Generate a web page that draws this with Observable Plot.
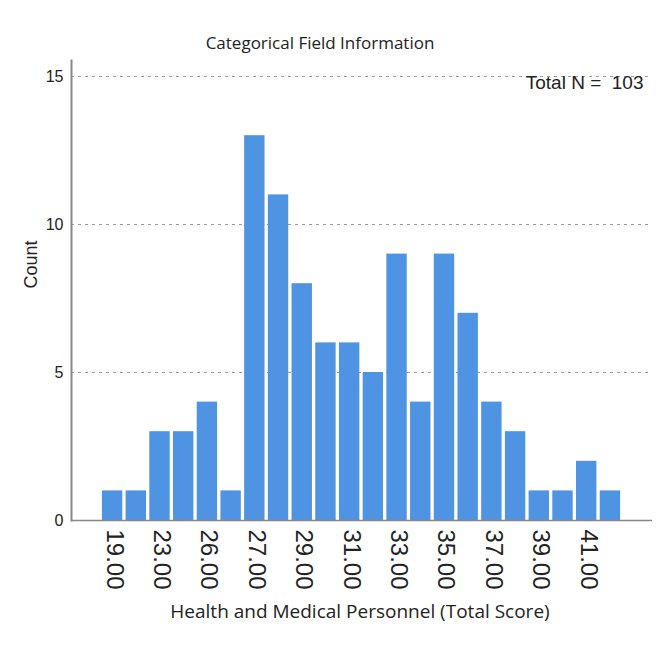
<!DOCTYPE html>
<html>
<head>
<meta charset="utf-8">
<script src="https://cdn.jsdelivr.net/npm/d3@7"></script>
<script src="https://cdn.jsdelivr.net/npm/@observablehq/plot@0.6"></script>
<style>
  html, body { margin: 0; padding: 0; background: #fff; }
  #chart svg { display: block; }
</style>
</head>
<body>
<div id="chart"></div>
<script>
const categories = ["19.00","22.00","23.00","25.00","26.00","26.50","27.00","28.00","29.00","30.00","31.00","32.00","33.00","34.00","35.00","36.00","37.00","38.00","39.00","40.00","41.00","42.00"];
const counts = [1,1,3,3,4,1,13,11,8,6,6,5,9,4,9,7,4,3,1,1,2,1];
const tickLabels = ["19.00","23.00","26.00","27.00","29.00","31.00","33.00","35.00","37.00","39.00","41.00"];
const yTicks = [0,5,10,15];
const gridTicks = [5,10,15];
const title = "Categorical Field Information";
const xTitle = "Health and Medical Personnel (Total Score)";
const yTitle = "Count";
const totalLabel = "Total N =  103";

const data = categories.map((c, i) => ({cat: c, count: counts[i]}));

const arial = "'Liberation Sans', Arial, sans-serif";
const sans = "'Open Sans', 'Noto Sans', sans-serif";

const chart = Plot.plot({
  width: 660,
  height: 669,
  marginTop: 60,
  marginBottom: 149,
  marginLeft: 71,
  marginRight: 8,
  style: {fontFamily: arial, color: "#222", background: "#fff"},
  x: {type: "band", domain: categories, round: false, paddingInner: 0.14, paddingOuter: 0.08, insetLeft: 29, insetRight: 30, axis: null},
  y: {domain: [0, 15], insetTop: 16, axis: null},
  marks: [
    Plot.gridY(gridTicks, {stroke: "#9a9a9a", strokeOpacity: 1, strokeDasharray: "3,4", strokeWidth: 1}),
    Plot.barY(data, {x: "cat", y: "count", fill: "#4f93e3"}),
    Plot.ruleY([0], {stroke: "#888", strokeWidth: 1.5}),
    Plot.frame({anchor: "left", stroke: "#888", strokeWidth: 2}),
    Plot.axisY(yTicks, {tickSize: 0, tickPadding: 8, fontSize: 16, label: null, fill: "#222"}),
    Plot.text(tickLabels, {x: d => d, frameAnchor: "bottom", rotate: 90, textAnchor: "start", dy: 9, dx: -6, fontSize: 24, fill: "#222", fontFamily: arial}),
    Plot.text([title], {frameAnchor: "top", dx: -42, dy: -12, lineAnchor: "bottom", fontSize: 17, fontFamily: sans, fill: "#222"}),
    Plot.text([totalLabel], {frameAnchor: "top-right", dx: -9, dy: 28, lineAnchor: "bottom", textAnchor: "end", fontSize: 19, fontFamily: arial, fill: "#222"}),
    Plot.text([yTitle], {frameAnchor: "left", dx: -40, dy: -2, rotate: -90, fontSize: 18, fontFamily: arial, fill: "#222"}),
    Plot.text([xTitle], {frameAnchor: "bottom", dx: -2, dy: 97, lineAnchor: "bottom", fontSize: 19, fontFamily: sans, fill: "#222"})
  ]
});
document.getElementById("chart").appendChild(chart);
</script>
</body>
</html>
